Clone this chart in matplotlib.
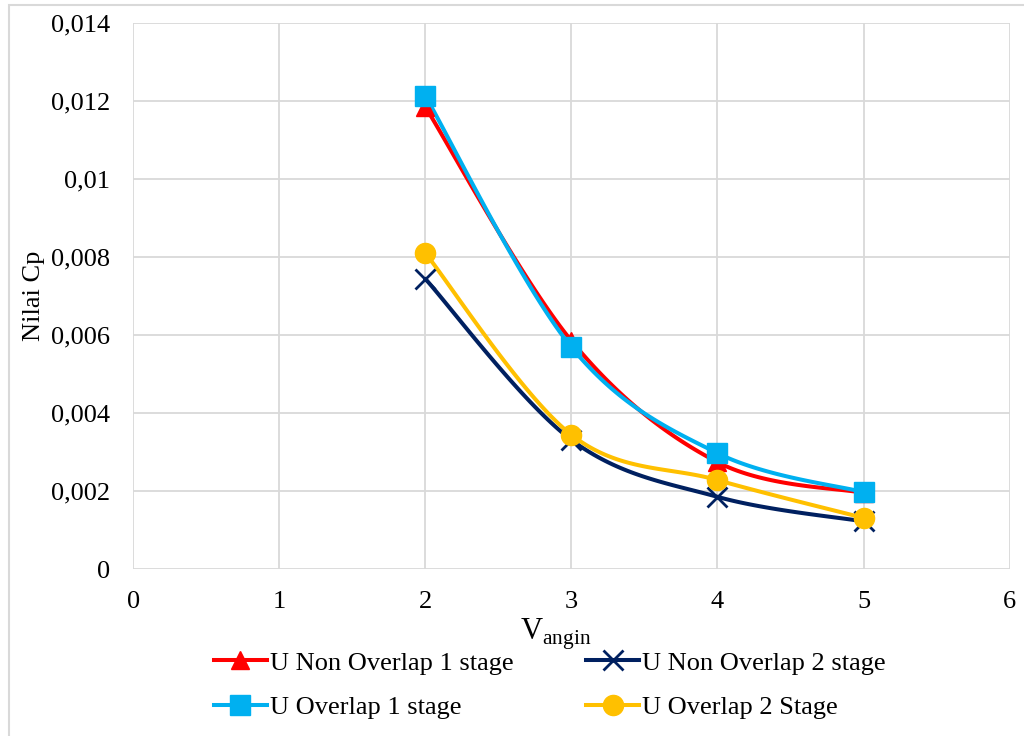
import numpy as np
import matplotlib
matplotlib.use("Agg")
import matplotlib.pyplot as plt
from matplotlib.patches import Rectangle
from matplotlib.ticker import FixedLocator, FixedFormatter

plt.rcParams["font.family"] = ["Liberation Serif", "DejaVu Serif"]

# Wind speed (m/s)
v_angin = [2, 3, 4, 5]

# Power coefficient per rotor configuration
cp_non_overlap_1 = [0.01185, 0.00585, 0.00274, 0.00195]
cp_non_overlap_2 = [0.00744, 0.00331, 0.00185, 0.00122]
cp_overlap_1 = [0.01213, 0.00569, 0.00297, 0.00197]
cp_overlap_2 = [0.00810, 0.00344, 0.00228, 0.00131]

series_names = ["U Non Overlap 1 stage", "U Non Overlap 2 stage",
                "U Overlap 1 stage", "U Overlap 2 Stage"]

x_ticks = [0, 1, 2, 3, 4, 5, 6]
y_ticks = [0, 0.002, 0.004, 0.006, 0.008, 0.010, 0.012, 0.014]
y_tick_labels = ["0", "0,002", "0,004", "0,006", "0,008", "0,01", "0,012", "0,014"]


def smooth(xs, ys, n=40):
    """Cubic Bezier smoothing through the points (Catmull-Rom style controls)."""
    pts = np.column_stack([xs, ys]).astype(float)
    out = []
    m = len(pts)
    for i in range(m - 1):
        p0 = pts[i - 1] if i > 0 else pts[i]
        p1 = pts[i]
        p2 = pts[i + 1]
        p3 = pts[i + 2] if i + 2 < m else pts[i + 1]
        c1 = p1 + (p2 - p0) / 6.0
        c2 = p2 - (p3 - p1) / 6.0
        t = np.linspace(0, 1, n)[:, None]
        seg = ((1 - t) ** 3) * p1 + 3 * ((1 - t) ** 2) * t * c1 \
            + 3 * (1 - t) * t ** 2 * c2 + t ** 3 * p2
        out.append(seg if i == 0 else seg[1:])
    seg = np.vstack(out)
    return seg[:, 0], seg[:, 1]


fig = plt.figure(figsize=(10.24, 7.36), dpi=100)
ax = fig.add_axes([0.130, 0.2269, 0.856, 0.7419])

# light frame around the chart area
fig.patches.append(Rectangle((0.0085, -0.02), 1.05, 1.013, transform=fig.transFigure,
                             fill=False, edgecolor="#D9D9D9", linewidth=1.5))

styles = [
    dict(color="#FF0000", marker="^", ms=13),
    dict(color="#002060", marker="x", ms=15, mew=2),
    dict(color="#00B0F0", marker="s", ms=14),
    dict(color="#FFC000", marker="o", ms=14.5),
]
data = [cp_non_overlap_1, cp_non_overlap_2, cp_overlap_1, cp_overlap_2]
handles = []
for name, ys, st in zip(series_names, data, styles):
    sx, sy = smooth(v_angin, ys)
    ax.plot(sx, sy, color=st["color"], lw=2.9, solid_capstyle="round", zorder=3)
    ax.plot(v_angin, ys, linestyle="none", marker=st["marker"], color=st["color"],
            markersize=st["ms"], markeredgewidth=st.get("mew", 1), zorder=4)
    h, = ax.plot([], [], color=st["color"], lw=2.9, marker=st["marker"],
                 markersize=st["ms"], markeredgewidth=st.get("mew", 1))
    handles.append(h)

ax.set_xlim(0, 6)
ax.set_ylim(0, 0.014)
ax.xaxis.set_major_locator(FixedLocator(x_ticks))
ax.yaxis.set_major_locator(FixedLocator(y_ticks))
ax.yaxis.set_major_formatter(FixedFormatter(y_tick_labels))
ax.grid(True, color="#D9D9D9", linewidth=1.3)
ax.set_axisbelow(True)
for sp in ax.spines.values():
    sp.set_visible(False)
ax.tick_params(axis="y", length=0, labelsize=19, colors="black", pad=16.5)
ax.tick_params(axis="x", length=0, labelsize=19, colors="black", pad=16)

ax.set_ylabel("Nilai Cp", fontsize=19, labelpad=4)
ax.set_xlabel(r"V$_{\mathregular{angin}}$", fontsize=22)
ax.xaxis.set_label_coords(0.482, -0.087)

# legend in two columns: reorder so rows read across
order = [0, 2, 1, 3]
leg = fig.legend([handles[i] for i in order], [series_names[i] for i in order],
                 ncol=2, loc="center", bbox_to_anchor=(0.537, 0.0693),
                 frameon=False, fontsize=19, handlelength=2.0, columnspacing=2.75,
                 handletextpad=0.12, labelspacing=0.78, borderpad=0.3)

fig.savefig("out.png", dpi=100)
